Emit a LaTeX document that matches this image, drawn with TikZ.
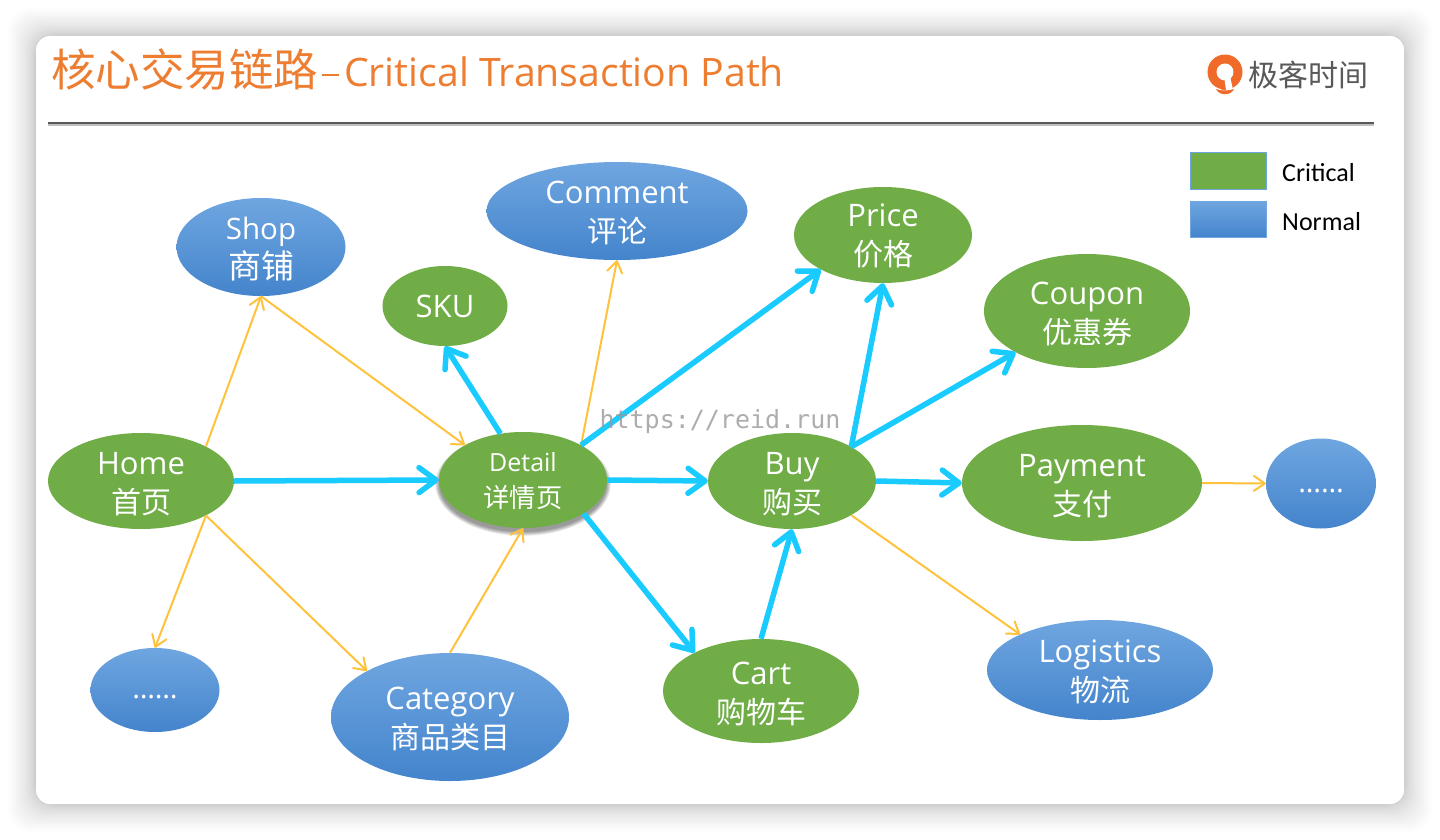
\documentclass[tikz,border=0pt]{standalone}
\usepackage{fontspec}
\setmainfont{Open Sans}
\newfontfamily\cjk{Noto Sans CJK SC}
\newfontfamily\legendfont{Carlito}
\newfontfamily\markfont{DejaVu Sans Mono}
\usetikzlibrary{shapes.geometric}
\usetikzlibrary{arrows.meta}
\definecolor{critgreen}{HTML}{70AD47}
\definecolor{normtop}{HTML}{6FA6E0}
\definecolor{normbot}{HTML}{4484CC}
\definecolor{titleorange}{HTML}{ED7D31}
\definecolor{pathcyan}{HTML}{19CBFF}
\definecolor{pathyellow}{HTML}{FFC23C}
% two-line label, moved down a little
\newcommand{\pagelabel}[3][3pt]{\raisebox{-#1}[\height][\depth]{#2}\\\raisebox{-#1}[\height][\depth]{\fontsize{30}{39}\selectfont\cjk #3}}

\begin{document}
\begin{tikzpicture}[x=1pt, y=-1pt]
        % ================= styles =================
        \tikzset{
            % critical page: plain green ellipse
            crit_node/.style={ellipse, fill=critgreen, text=white, inner sep=0pt, align=center, font=\fontsize{31}{39}\selectfont},
            % normal page: blue shaded ellipse
            norm_node/.style={ellipse, top color=normtop, bottom color=normbot, text=white, inner sep=0pt, align=center, font=\fontsize{31}{39}\selectfont},
            % thick cyan path
            crit_path/.style={line width=5.5pt, pathcyan, -{Straight Barb[length=17pt, width=25pt, round]}},
            % thin yellow path
            norm_path/.style={line width=2pt, pathyellow, -{Straight Barb[length=11pt, width=15pt, round]}},
            legend_box/.style={rectangle, draw=normtop, line width=1pt, minimum width=76pt, minimum height=36pt, inner sep=0pt},
            legend_text/.style={anchor=west, inner sep=0pt, font=\fontsize{26}{28}\selectfont\legendfont}
        }
        \useasboundingbox (0,0) rectangle (1440,840);
        \fill[white] (0,0) rectangle (1440,840);

        % ================= window =================
        \foreach \i in {1,...,30} {
            \pgfmathsetmacro{\grow}{28*(\i/30)^2}
            \fill[black, opacity=0.0075, rounded corners=22pt] (36-\grow,36-\grow) rectangle (1404+\grow,804+\grow);
        }
        \fill[white, rounded corners=14pt] (36,36) rectangle (1404,804);

        % ================= title =================
        \node[anchor=west, inner sep=0pt, text=titleorange, font=\fontsize{39.2}{48}\selectfont] (title) at (51,69.5) {{\fontsize{44.5}{48}\selectfont\cjk 核心交易链路}\hspace{4pt}\rule[10.5pt]{17pt}{2.2pt}\hspace{5pt}Critical Transaction Path};
        \fill[black!25] (48,124) rectangle (1374,126);
        \fill[black!65] (48,122) rectangle (1374,124.5);

        % ================= logo =================
        \fill[titleorange!85!red] (1225,72) circle (17.5pt);
        \fill[titleorange!85!red] (1212,84) -- (1238,84) -- (1227,90) -- (1223,90) -- cycle;
        \fill[white] (1225,72) circle (8.5pt);
        \fill[white] (1224,76) -- (1230,76) -- (1233,90) -- (1226,90) -- cycle;
        \fill[titleorange!85!red] (1216,89) .. controls (1221,91) and (1229,91) .. (1234,89) .. controls (1231,96) and (1219,96) .. (1216,89);
        \node[anchor=west, inner sep=0pt, text=black!65, font=\fontsize{30}{34}\selectfont\cjk] (brand) at (1248,75) {极客时间};

        % ================= legend =================
        \node[legend_box, fill=critgreen] (key_crit) at (1228.5,171) {};
        \node[legend_box, top color=normtop, bottom color=normbot] (key_norm) at (1228.5,219) {};
        \node[legend_text] (key_crit_text) at (1282,173) {Critical};
        \node[legend_text] (key_norm_text) at (1282,222) {Normal};

        % ================= detail shadow =================
        \foreach \i in {1,...,6} {
            \fill[black, opacity=0.08] (523,484) ellipse ({83pt+\i*0.8pt} and {47pt+\i*0.8pt});
        }

        % ================= nodes =================
        \node[crit_node, minimum width=186pt, minimum height=96pt] (home) at (141,481) {\pagelabel{Home}{首页}};
        \node[norm_node, minimum width=169pt, minimum height=98pt, font=\fontsize{29.5}{39}\selectfont] (shop) at (261,247) {\pagelabel[2pt]{Shop}{\fontsize{33}{39}\selectfont 商铺}};
        \node[crit_node, minimum width=125pt, minimum height=80pt] (sku) at (445,306) {SKU};
        \node[norm_node, minimum width=261pt, minimum height=98pt] (comment) at (617,211) {\pagelabel[1.5pt]{Comment}{评论}};
        \node[crit_node, minimum width=178pt, minimum height=96pt] (price) at (883,235) {\pagelabel[1pt]{Price}{价格}};
        \node[crit_node, minimum width=206pt, minimum height=114pt] (coupon) at (1087,311) {\pagelabel{Coupon}{优惠券}};
        \node[crit_node, minimum width=168pt, minimum height=96pt, font=\fontsize{25}{36}\selectfont] (detail) at (523,480) {\pagelabel[1pt]{Detail}{\fontsize{26.3}{36}\selectfont 详情页}};
        \node[crit_node, minimum width=168pt, minimum height=96pt] (buy) at (792,481) {\pagelabel[3.5pt]{Buy}{购买}};
        \node[crit_node, minimum width=240pt, minimum height=116pt] (payment) at (1082,483) {\pagelabel{Payment}{支付}};
        \node[norm_node, minimum width=110pt, minimum height=90pt, font=\fontsize{29}{32}\selectfont] (more_right) at (1321,483.5) {\raisebox{-7pt}[\height][\depth]{……}};
        \node[norm_node, minimum width=226pt, minimum height=100pt] (logistics) at (1100,670) {\pagelabel[2pt]{Logistics}{物流}};
        \node[crit_node, minimum width=196pt, minimum height=104pt] (cart) at (761,691) {\pagelabel{Cart}{购物车}};
        \node[norm_node, minimum width=238pt, minimum height=128pt] (category) at (450,717) {\pagelabel[2pt]{Category}{商品类目}};
        \node[norm_node, minimum width=129pt, minimum height=84pt, font=\fontsize{29}{32}\selectfont] (more_left) at (155,690) {\raisebox{-7pt}[\height][\depth]{……}};

        % ================= thin paths =================
        \draw[norm_path] (home.28) -- (shop.270);
        \draw[norm_path] (shop.270) -- (detail.149);
        \draw[norm_path] (home.-28) -- (more_left.90);
        \draw[norm_path] (home.-28) -- (category.151);
        \draw[norm_path] (category.90) -- (detail.270);
        \draw[norm_path] (detail.31) -- (comment.270);
        \draw[norm_path] (buy.-30) -- (logistics.156);
        \draw[norm_path] (payment.0) -- (more_right.180);

        % ================= thick paths =================
        \draw[crit_path] (home.0) -- (detail.180);
        \draw[crit_path] (detail.116) -- (sku.270);
        \draw[crit_path] (detail.31) -- (price.209);
        \draw[crit_path] (detail.0) -- (buy.180);
        \draw[crit_path] (detail.-29) -- (cart.150);
        \draw[crit_path] (cart.90) -- (buy.270);
        \draw[crit_path] (buy.30) -- (price.270);
        \draw[crit_path] (buy.30) -- (coupon.210);
        \draw[crit_path] (buy.0) -- (payment.180);

        % ================= address =================
        \node[text=black!40, opacity=0.8, inner sep=0pt, font=\fontsize{25}{28}\selectfont\markfont] (site) at (720,422) {https://reid.run};
    \end{tikzpicture}
\end{document}
